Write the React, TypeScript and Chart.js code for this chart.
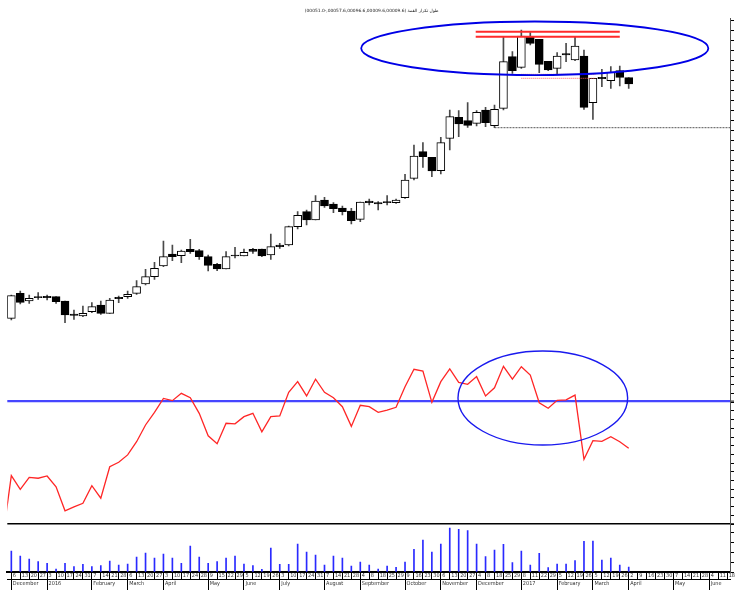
import React, { useEffect, useRef } from "react";
import { Chart, registerables } from "chart.js";

Chart.register(...registerables);

const TITLE = "(00051.0-,00057.6,00096.6,00009.6,00009.6) طول تكرار القمة";

// weekly tick labels, index k = 0 (first candle week) .. 80
const DAY_LABELS = [
  "6", "13", "20", "27", "3", "10", "17", "24", "31", "7",
  "14", "21", "28", "6", "13", "20", "27", "3", "10", "17",
  "24", "28", "9", "15", "22", "29", "5", "12", "19", "26",
  "3", "10", "17", "24", "31", "7", "14", "21", "28", "4",
  "8", "18", "25", "29", "9", "16", "23", "30", "6", "13",
  "20", "27", "4", "8", "18", "25", "29", "8", "11", "22",
  "29", "5", "12", "19", "26", "5", "12", "19", "26", "2",
  "9", "16", "23", "30", "7", "14", "21", "28", "4", "11", "18",
];
const MONTH_TICKS = [0, 4, 9, 13, 17, 22, 26, 30, 35, 39, 44, 48, 52, 57, 61, 65, 69, 74, 78];
const MONTH_LABELS = [
  "December", "2016", "February", "March", "April", "May", "June", "July", "August",
  "September", "October", "November", "December", "2017", "February", "March", "April", "May", "June",
];

const OPEN = [
  3.17, 5.67, 4.90, 5.33, 5.37, 5.33, 4.90, 3.60, 3.40, 3.83,
  4.50, 3.67, 5.27, 5.33, 5.67, 6.60, 7.33, 8.40, 9.60, 9.43,
  10.07, 9.93, 9.33, 8.57, 8.10, 9.50, 9.40, 10.07, 10.10, 9.50,
  10.50, 10.50, 12.33, 13.83, 13.00, 15.00, 14.60, 14.20, 13.90, 13.07,
  14.90, 14.73, 14.83, 14.73, 15.23, 17.17, 19.83, 19.27, 17.93, 21.17,
  23.27, 22.93, 22.67, 24.00, 22.43, 24.17, 29.33, 28.27, 31.27, 31.07,
  28.87, 28.17, 29.63, 29.00, 29.40, 24.73, 27.27, 26.93, 27.93, 27.23,
];
const HIGH = [
  5.50, 5.90, 5.50, 5.73, 5.50, 5.33, 4.90, 4.00, 4.40, 4.73,
  4.90, 5.17, 5.40, 5.90, 6.93, 8.07, 8.77, 10.90, 10.50, 10.00,
  11.07, 10.07, 9.50, 8.67, 9.83, 10.27, 10.10, 10.17, 10.10, 11.60,
  10.67, 12.40, 13.83, 14.00, 15.43, 15.27, 14.73, 14.40, 14.17, 14.80,
  15.10, 14.83, 15.43, 15.10, 17.57, 20.50, 20.73, 19.27, 21.27, 24.00,
  23.93, 24.73, 23.93, 24.27, 24.50, 31.27, 29.83, 32.00, 31.73, 31.07,
  28.87, 29.73, 30.67, 31.27, 30.00, 27.17, 28.07, 28.33, 28.40, 27.23,
];
const LOW = [
  3.00, 4.60, 4.67, 5.07, 5.00, 4.67, 2.73, 3.07, 3.33, 3.73,
  3.57, 3.67, 4.73, 5.17, 5.57, 6.50, 7.07, 8.33, 8.93, 8.73,
  9.67, 9.07, 7.90, 7.93, 8.10, 9.20, 9.40, 9.67, 9.33, 9.07,
  10.17, 10.40, 12.10, 12.50, 13.00, 14.27, 13.73, 13.50, 12.60, 12.83,
  14.50, 14.00, 14.50, 14.67, 15.17, 17.00, 18.27, 17.33, 17.60, 20.00,
  21.33, 22.27, 22.40, 22.33, 22.23, 24.00, 27.67, 28.17, 30.50, 27.73,
  27.93, 27.60, 28.83, 28.93, 24.07, 23.07, 26.33, 26.17, 26.40, 26.17,
];
const CLOSE = [
  5.43, 4.77, 5.17, 5.23, 5.23, 4.83, 3.50, 3.47, 3.67, 4.33,
  3.67, 5.00, 5.13, 5.57, 6.33, 7.33, 8.17, 9.33, 9.33, 9.90,
  9.83, 9.33, 8.47, 8.10, 9.33, 9.40, 9.77, 9.87, 9.40, 10.33,
  10.33, 12.33, 13.47, 13.00, 14.90, 14.40, 14.13, 13.83, 12.93, 14.80,
  14.73, 14.60, 14.73, 15.00, 17.00, 19.40, 19.33, 17.90, 20.73, 23.33,
  22.60, 22.47, 23.77, 22.73, 24.07, 28.83, 27.93, 31.40, 30.67, 28.57,
  28.00, 29.40, 29.50, 30.40, 24.27, 27.17, 27.13, 27.77, 27.27, 26.60,
];
const VOLUME = [
  525, 400, 325, 258, 218, 75, 218, 133, 193, 133,
  158, 275, 175, 200, 375, 475, 350, 450, 350, 218,
  650, 375, 218, 258, 350, 400, 200, 158, 68, 600,
  193, 193, 700, 500, 425, 175, 400, 350, 150, 250,
  175, 75, 150, 118, 250, 568, 800, 500, 700, 1100,
  1068, 1033, 700, 383, 550, 693, 233, 525, 175, 468,
  108, 200, 200, 283, 768, 775, 300, 350, 175, 125,
];
// oscillator starts one week before the first candle
const OSC_START = -1;
const OSC = [
  -9.4,
  27.8, 19.9, 26.8, 26.3, 27.6, 21.4, 7.6, 9.8, 11.9, 22.0,
  14.8, 32.9, 35.5, 39.7, 47.3, 56.9, 64.2, 72.2, 70.9, 75.1,
  72.6, 63.6, 50.7, 46.1, 57.9, 57.6, 61.7, 63.6, 53.0, 61.7,
  62.1, 75.7, 81.8, 73.6, 83.2, 75.7, 72.6, 67.4, 56.1, 68.2,
  67.4, 64.2, 65.5, 67.1, 78.9, 88.9, 87.9, 69.9, 81.8, 89.1,
  81.4, 80.3, 84.7, 73.6, 78.3, 90.6, 83.2, 90.4, 85.6, 69.7,
  66.5, 71.1, 71.3, 74.1, 37.2, 47.9, 47.5, 50.2, 47.3, 43.5,
];
const OSC_LEVEL = 70.7;

// drawn annotations
const SUPPORT_FROM = 54;
const RESIST_LEVELS = [31.83, 31.33];
const RESIST_RANGE = [51.9, 68];
const MARK_LEVELS = [27.57, 27.17];
const MARK_RANGE = [57, 65.3];
const PRICE_ELLIPSE = { cx: 58.5, cy: 30.17, rx: 19.4, ry: 2.68 };
const OSC_ELLIPSE = { cx: 59.4, cy: 72.4, rx: 9.48, ry: 27.0 };

const X_MIN = -0.45;
const X_MAX = 80.32;
const PRICE_MAX = 33.2;
const OSC_MAX = 100;
const VOL_MAX = 1200;

const SMALL_FONT = "'Liberation Sans Narrow', 'DejaVu Sans Condensed', sans-serif";

const ellipsePlugin = {
  id: "ellipses",
  afterDatasetsDraw(chart: any) {
    const { ctx, chartArea, scales } = chart;
    const xs = scales.x;
    const items = [
      { e: PRICE_ELLIPSE, axis: "yp", color: "#0000e6", width: 1.8 },
      { e: OSC_ELLIPSE, axis: "yo", color: "#1a1aee", width: 1.4 },
    ];
    for (const it of items) {
      const ys = scales[it.axis];
      const cx = xs.getPixelForValue(it.e.cx);
      const cy = ys.getPixelForValue(it.e.cy);
      const rx = Math.abs(xs.getPixelForValue(it.e.cx + it.e.rx) - cx);
      const ry = Math.abs(ys.getPixelForValue(it.e.cy + it.e.ry) - cy);
      ctx.save();
      ctx.beginPath();
      ctx.rect(chartArea.left, ys.top, chartArea.right - chartArea.left, ys.bottom - ys.top);
      ctx.clip();
      ctx.beginPath();
      ctx.ellipse(cx, cy, rx, ry, 0, 0, Math.PI * 2);
      ctx.strokeStyle = it.color;
      ctx.lineWidth = it.width;
      ctx.stroke();
      ctx.restore();
    }
  },
};

function hline(levels: number[], range: number[], color: string, width: number, dash: number[]) {
  return levels.map((l) => ({
    type: "line" as const,
    data: [
      { x: range[0], y: l },
      { x: range[1], y: l },
    ],
    borderColor: color,
    borderWidth: width,
    borderDash: dash,
    pointRadius: 0,
    xAxisID: "x",
    yAxisID: "yp",
    order: 0,
  }));
}

export default function App() {
  const ref = useRef<HTMLCanvasElement>(null);

  useEffect(() => {
    const idx = OPEN.map((_, i) => i);
    const rightAxis = (extra: any) => ({
      axis: "y",
      type: "linear",
      position: "right",
      stack: "panes",
      offset: false,
      ticks: { display: false },
      border: { display: true, color: "#555", width: 1 },
      afterFit: (s: any) => {
        s.width = 6;
      },
      ...extra,
    });

    const chart = new Chart(ref.current as HTMLCanvasElement, {
      type: "bar",
      data: {
        datasets: [
          {
            type: "line",
            data: OSC.map((v, j) => ({ x: OSC_START + j, y: v })),
            borderColor: "#ff2626",
            borderWidth: 1.3,
            pointRadius: 0,
            tension: 0,
            xAxisID: "x",
            yAxisID: "yo",
            order: 0,
          },
          {
            type: "line",
            data: [
              { x: SUPPORT_FROM, y: LOW[SUPPORT_FROM] },
              { x: X_MAX, y: LOW[SUPPORT_FROM] },
            ],
            borderColor: "#555",
            borderWidth: 1,
            borderDash: [2, 1],
            pointRadius: 0,
            xAxisID: "x",
            yAxisID: "yp",
            order: 0,
          },
          ...hline(RESIST_LEVELS, RESIST_RANGE, "#ff2a2a", 2, []),
          ...hline(MARK_LEVELS, MARK_RANGE, "#ff5a5a", 1, [1, 1]),
          {
            type: "bar",
            data: idx.map((i) => ({ x: i, y: [OPEN[i], CLOSE[i]] })),
            backgroundColor: (c: any) =>
              CLOSE[c.dataIndex] >= OPEN[c.dataIndex] ? "#ffffff" : "#000000",
            borderColor: "#000",
            borderWidth: 1,
            borderSkipped: false,
            barThickness: 8,
            grouped: false,
            xAxisID: "x",
            yAxisID: "yp",
            order: 1,
          },
          {
            type: "bar",
            data: idx.map((i) => ({ x: i, y: [LOW[i], HIGH[i]] })),
            backgroundColor: "#4a4a4a",
            barThickness: 1,
            grouped: false,
            xAxisID: "x",
            yAxisID: "yp",
            order: 2,
          },
          {
            type: "bar",
            data: VOLUME.map((v, i) => ({ x: i, y: v })),
            backgroundColor: "#2a2aff",
            barThickness: 1,
            grouped: false,
            xAxisID: "x",
            yAxisID: "yv",
            order: 2,
          },
        ] as any,
      },
      options: {
        responsive: false,
        maintainAspectRatio: false,
        animation: false,
        devicePixelRatio: 1,
        events: [],
        layout: { padding: { left: 7.3, right: 0, top: 0, bottom: 0 } },
        plugins: {
          legend: { display: false },
          tooltip: { enabled: false },
          title: {
            display: true,
            text: TITLE,
            color: "#222",
            font: { size: 4.4, family: "'Liberation Sans Narrow', 'DejaVu Sans', sans-serif", weight: "normal" },
            padding: { top: 8.0, bottom: 4.72 },
          },
        },
        scales: {
          x: {
            axis: "x",
            type: "linear",
            position: "bottom",
            min: X_MIN,
            max: X_MAX,
            offset: false,
            weight: 0,
            afterBuildTicks: (s: any) => {
              s.ticks = DAY_LABELS.map((_, k) => ({ value: k }));
            },
            afterFit: (s: any) => {
              s.height = 7;
            },
            ticks: {
              autoSkip: false,
              maxRotation: 0,
              minRotation: 0,
              align: "start",
              labelOffset: 1.5,
              padding: -6.5,
              color: "#333",
              font: { size: 5.5, family: SMALL_FONT },
              callback: (v: any) => DAY_LABELS[Math.round(Number(v))],
            },
            grid: { drawOnChartArea: false, drawTicks: true, tickLength: 7, color: "#000", offset: false },
            border: { display: true, color: "#000", width: 2 },
          },
          xm: {
            axis: "x",
            type: "linear",
            position: "bottom",
            min: X_MIN,
            max: X_MAX,
            offset: false,
            weight: 1,
            afterBuildTicks: (s: any) => {
              s.ticks = MONTH_TICKS.map((k) => ({ value: k }));
            },
            afterFit: (s: any) => {
              s.height = 12;
            },
            ticks: {
              autoSkip: false,
              maxRotation: 0,
              minRotation: 0,
              align: "start",
              labelOffset: 1.5,
              padding: -9.5,
              color: "#333",
              font: { size: 5.5, family: SMALL_FONT },
              callback: (v: any) => MONTH_LABELS[MONTH_TICKS.indexOf(Math.round(Number(v)))],
            },
            grid: { drawOnChartArea: false, drawTicks: true, tickLength: 11, color: "#000", offset: false },
            border: { display: true, color: "#000", width: 1 },
          },
          yp: rightAxis({
            min: 0,
            max: PRICE_MAX,
            stackWeight: 332,
            afterBuildTicks: (s: any) => {
              const t = [];
              for (let v = 0; v <= 33; v += 1) t.push({ value: v });
              s.ticks = t;
            },
            grid: { drawOnChartArea: false, drawTicks: true, tickLength: 4, color: "#000" },
          }),
          yo: rightAxis({
            min: 0,
            max: OSC_MAX,
            stackWeight: 174,
            afterBuildTicks: (s: any) => {
              const t = [];
              for (let v = 0; v <= OSC_MAX; v += 5) t.push({ value: v });
              t.push({ value: OSC_LEVEL });
              s.ticks = t;
            },
            grid: {
              drawOnChartArea: true,
              drawTicks: true,
              tickLength: 4,
              color: (c: any) => (c.tick && c.tick.value === OSC_LEVEL ? "#4646ff" : "rgba(0,0,0,0)"),
              lineWidth: (c: any) => (c.tick && c.tick.value === OSC_LEVEL ? 2.2 : 1),
              tickColor: "#000",
              tickWidth: 1,
            },
          }),
          yv: rightAxis({
            min: 0,
            max: VOL_MAX,
            stackWeight: 48,
            afterBuildTicks: (s: any) => {
              const t = [];
              for (let v = 0; v <= 1000; v += 250) t.push({ value: v });
              t.push({ value: VOL_MAX });
              s.ticks = t;
            },
            grid: {
              drawOnChartArea: true,
              drawTicks: true,
              tickLength: 4,
              color: (c: any) => (c.tick && c.tick.value === VOL_MAX ? "#000" : "rgba(0,0,0,0)"),
              lineWidth: (c: any) => (c.tick && c.tick.value === VOL_MAX ? 1.5 : 1),
              tickColor: "#000",
              tickWidth: 1,
            },
          }),
        } as any,
      },
      plugins: [ellipsePlugin],
    });
    return () => chart.destroy();
  }, []);

  return (
    <div style={{ position: "absolute", left: 0, top: 0, width: 736, height: 591, background: "#fff" }}>
      <canvas ref={ref} width={736} height={591} style={{ display: "block", width: 736, height: 591 }} />
    </div>
  );
}
